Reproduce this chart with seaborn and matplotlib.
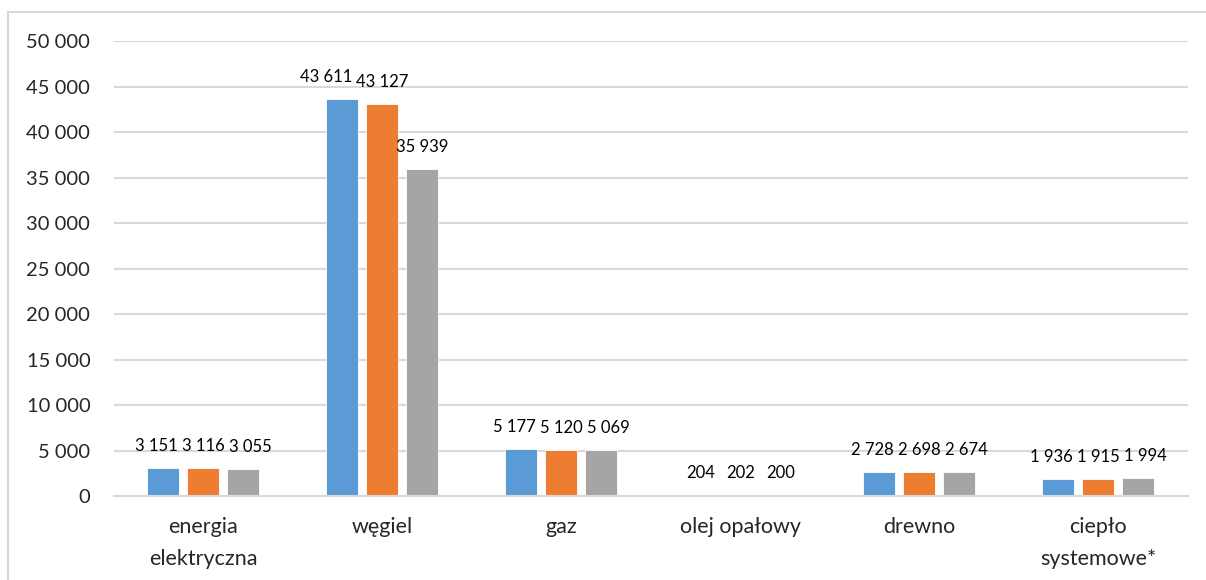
import pandas as pd
import matplotlib.pyplot as plt
import seaborn as sns
from matplotlib.patches import Rectangle

# Dane
kategorie = ["energia\nelektryczna", "węgiel", "gaz", "olej opałowy", "drewno", "ciepło\nsystemowe*"]
seria_1 = [3151, 43611, 5177, 204, 2728, 1936]
seria_2 = [3116, 43127, 5120, 202, 2698, 1915]
seria_3 = [3055, 35939, 5069, 200, 2674, 1994]
serie = ["seria 1", "seria 2", "seria 3"]
kolory = ["#5B9BD5", "#ED7D31", "#A5A5A5"]

df = pd.DataFrame({
    "kategoria": kategorie * 3,
    "seria": [s for s in serie for _ in kategorie],
    "wartosc": seria_1 + seria_2 + seria_3,
})

sns.set_style("white")
plt.rcParams["font.family"] = ["Lato", "DejaVu Sans"]


def fmt_pl(v):
    return f"{v:,.0f}".replace(",", " ")


fig, ax = plt.subplots(figsize=(12.06, 5.8), dpi=100)
fig.subplots_adjust(left=0.0945, right=0.985, bottom=0.144, top=0.929)

sns.barplot(data=df, x="kategoria", y="wartosc", hue="seria", hue_order=serie,
            palette=kolory, width=0.67, gap=0.2, legend=False, ax=ax,
            edgecolor="white", linewidth=0.6, saturation=1)

PAD = 10
etykiety = []
for cont in ax.containers:
    etykiety.append(ax.bar_label(cont, labels=[fmt_pl(b.get_height()) for b in cont],
                                 padding=PAD, fontsize=12, color="#000000"))

ax.set_ylim(0, 50000)
ax.set_yticks(range(0, 50001, 5000))
ax.set_yticklabels([fmt_pl(t) for t in range(0, 50001, 5000)], fontsize=14.5)
ax.set_xticks(range(len(kategorie)))
ax.set_xticklabels(kategorie, fontsize=15.5, linespacing=1.75)
ax.tick_params(axis="y", length=0, pad=17)
ax.tick_params(axis="x", length=0, pad=15)
ax.set_xlabel("")
ax.set_ylabel("")
ax.grid(axis="y", color="#D9D9D9", linewidth=1.5)
ax.set_axisbelow(True)
for s in ["left", "right", "top"]:
    ax.spines[s].set_visible(False)
ax.spines["bottom"].set_color("#D9D9D9")
ax.spines["bottom"].set_linewidth(1.5)

# rozsuwanie nachodzacych etykiet (jak w Excelu)
fig.canvas.draw()
r = fig.canvas.get_renderer()
px2pt = 72 / fig.dpi
for i in range(len(kategorie)):
    srodek = etykiety[1][i].get_window_extent(r)
    lewa = etykiety[0][i]
    bl = lewa.get_window_extent(r)
    if bl.overlaps(srodek):
        dx = bl.x1 - srodek.x0 + 4
        lewa.xyann = (-dx * px2pt, PAD)
    prawa = etykiety[2][i]
    bp = prawa.get_window_extent(r)
    if bp.overlaps(srodek):
        dx = srodek.x1 - bp.x0 + 4
        prawa.xyann = (dx * px2pt, PAD)

# ramka wykresu
fig.patches.append(Rectangle((8 / 1206, -0.2), 1.2, 1.2 - 12 / 580,
                             transform=fig.transFigure, fill=False,
                             edgecolor="#D9D9D9", linewidth=1.5))

plt.savefig("out.png", dpi=100)
